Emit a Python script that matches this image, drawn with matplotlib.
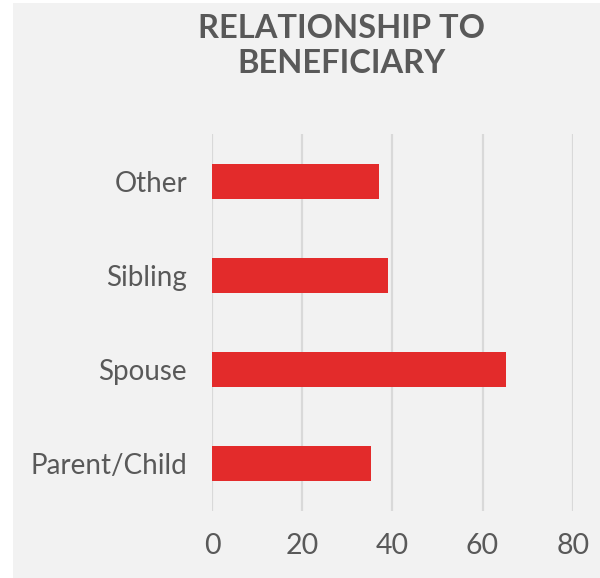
import matplotlib.pyplot as plt
from matplotlib.patches import Rectangle

plt.rcParams['font.family'] = ['Lato', 'DejaVu Sans']

# Andel per relasjon, nederst til øverst
kategorier = ['Parent/Child', 'Spouse', 'Sibling', 'Other']
verdier = [35.2, 65.1, 39.1, 37.1]
xticks = [0, 20, 40, 60, 80]

tekstfarge = '#595959'
bakgrunn = '#f2f2f2'
rod = '#e32b2b'

fig = plt.figure(figsize=(6, 5.78), dpi=100, facecolor='white')
# Grått panel bak hele diagrammet (hvit kant til venstre og øverst)
fig.patches.append(Rectangle((13 / 600, 0), 1 - 13 / 600, 1 - 3 / 578,
                             transform=fig.transFigure, facecolor=bakgrunn,
                             edgecolor='none', zorder=-10))

ax = fig.add_axes([212 / 600, 1 - 511 / 578, (572.7 - 212) / 600, (511 - 134) / 578])
ax.set_facecolor(bakgrunn)
ax.patch.set_alpha(0)

ax.barh(range(len(kategorier)), verdier, height=0.37, color=rod, zorder=3)

ax.set_xlim(0, 80)
ax.set_ylim(-0.5, len(kategorier) - 0.5)
ax.set_xticks(xticks)
ax.set_yticks(range(len(kategorier)))
ax.set_yticklabels(kategorier)
ax.grid(axis='x', color='#d9d9d9', linewidth=1.6, zorder=0)
ax.tick_params(axis='x', length=0, pad=16, labelsize=20.5, labelcolor=tekstfarge)
ax.tick_params(axis='y', length=0, pad=18, labelsize=20, labelcolor=tekstfarge)
for s in ax.spines.values():
    s.set_visible(False)

fig.text(341 / 600, 1 - 46 / 578, 'RELATIONSHIP TO\nBENEFICIARY', ha='center',
         va='center', fontsize=23.5, fontweight='bold', color=tekstfarge,
         linespacing=1.22)

fig.savefig('out.png', dpi=100, facecolor=fig.get_facecolor())
